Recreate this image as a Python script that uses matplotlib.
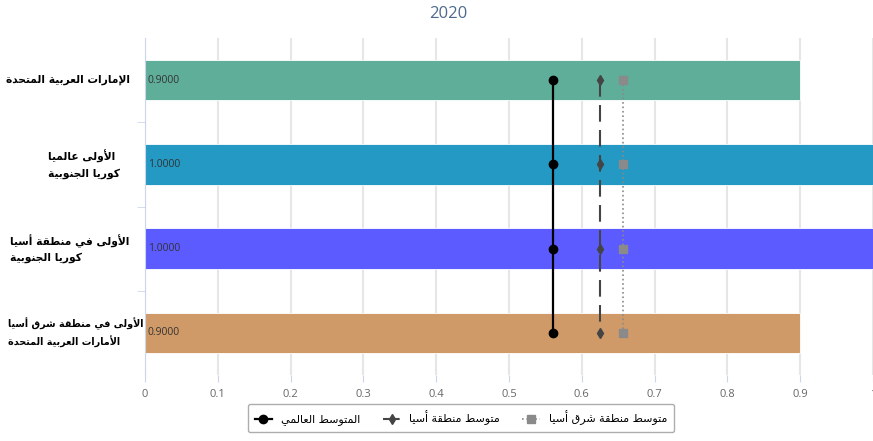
# -*- coding: utf-8 -*-
import matplotlib
matplotlib.use("Agg")
import matplotlib.pyplot as plt

# matplotlib has no Arabic shaping: map letters to presentation forms
# (isolated, final, initial, medial) and reverse for display
FORMS = {
    'ا': ('\uFE8D', '\uFE8E', None, None),
    'أ': ('\uFE83', '\uFE84', None, None),
    'إ': ('\uFE87', '\uFE88', None, None),
    'ب': ('\uFE8F', '\uFE90', '\uFE91', '\uFE92'),
    'ة': ('\uFE93', '\uFE94', None, None),
    'ت': ('\uFE95', '\uFE96', '\uFE97', '\uFE98'),
    'ج': ('\uFE9D', '\uFE9E', '\uFE9F', '\uFEA0'),
    'ح': ('\uFEA1', '\uFEA2', '\uFEA3', '\uFEA4'),
    'د': ('\uFEA9', '\uFEAA', None, None),
    'ر': ('\uFEAD', '\uFEAE', None, None),
    'س': ('\uFEB1', '\uFEB2', '\uFEB3', '\uFEB4'),
    'ش': ('\uFEB5', '\uFEB6', '\uFEB7', '\uFEB8'),
    'ط': ('\uFEC1', '\uFEC2', '\uFEC3', '\uFEC4'),
    'ع': ('\uFEC9', '\uFECA', '\uFECB', '\uFECC'),
    'ف': ('\uFED1', '\uFED2', '\uFED3', '\uFED4'),
    'ق': ('\uFED5', '\uFED6', '\uFED7', '\uFED8'),
    'ك': ('\uFED9', '\uFEDA', '\uFEDB', '\uFEDC'),
    'ل': ('\uFEDD', '\uFEDE', '\uFEDF', '\uFEE0'),
    'م': ('\uFEE1', '\uFEE2', '\uFEE3', '\uFEE4'),
    'ن': ('\uFEE5', '\uFEE6', '\uFEE7', '\uFEE8'),
    'و': ('\uFEED', '\uFEEE', None, None),
    'ى': ('\uFEEF', '\uFEF0', None, None),
    'ي': ('\uFEF1', '\uFEF2', '\uFEF3', '\uFEF4'),
}
LIG = {'ا': ('\uFEFB', '\uFEFC'), 'أ': ('\uFEF7', '\uFEF8'), 'إ': ('\uFEF9', '\uFEFA')}


def shape_line(line):
    toks = []
    i = 0
    while i < len(line):
        c = line[i]
        if c == 'ل' and i + 1 < len(line) and line[i + 1] in LIG:
            toks.append(('lig', line[i + 1]))
            i += 2
        else:
            toks.append(('ch', c))
            i += 1
    out = []
    for k, (kind, c) in enumerate(toks):
        prev = toks[k - 1] if k > 0 else None
        nxt = toks[k + 1] if k + 1 < len(toks) else None
        jp = (prev is not None and prev[0] == 'ch' and prev[1] in FORMS
              and FORMS[prev[1]][2] is not None)
        if kind == 'lig':
            out.append(LIG[c][1 if jp else 0])
            continue
        if c not in FORMS:
            out.append(c)
            continue
        f = FORMS[c]
        jn = (nxt is not None and f[2] is not None
              and (nxt[0] == 'lig' or nxt[1] in FORMS))
        if jp and jn:
            out.append(f[3])
        elif jp:
            out.append(f[1])
        elif jn:
            out.append(f[2])
        else:
            out.append(f[0])
    return ''.join(reversed(out))


def ar(text):
    return '\n'.join(shape_line(l) for l in text.split('\n'))


# data
title = "2020"
categories = [
    "الإمارات العربية المتحدة",
    "الأولى عالميا\nكوريا الجنوبية",
    "الأولى في منطقة أسيا\nكوريا الجنوبية",
    "الأولى في منطقة شرق أسيا\nالأمارات العربية المتحدة",
]
values = [0.9, 1.0, 1.0, 0.9]
bar_colors = ["#5fae9a", "#2399c4", "#5b5bff", "#d09a68"]
world_avg = [0.561, 0.561, 0.561, 0.561]
asia_avg = [0.625, 0.625, 0.625, 0.625]
east_asia_avg = [0.657, 0.657, 0.657, 0.657]
series_names = ["المتوسط العالمي", "متوسط منطقة أسيا", "متوسط منطقة شرق أسيا"]

# label right-edge gap from the axis (points) and font size per label
label_gaps = [11, 18, 11, 1]
label_sizes = [7.7, 7.7, 7.7, 6.9]

plt.rcParams['font.family'] = ['DejaVu Sans']

fig = plt.figure(figsize=(8.73, 4.41), dpi=100)
ax = fig.add_axes([145 / 873, 66 / 441, 728 / 873, 337 / 441])

ypos = list(range(len(categories)))
ax.barh(ypos, values, height=0.48, color=bar_colors, edgecolor="white",
        linewidth=0.6, zorder=2)
for y, v in zip(ypos, values):
    ax.text(0.004, y, "%.4f" % v, va="center", ha="left", fontsize=7.5,
            color="#333333", family="Open Sans", zorder=5)

ax.plot(world_avg, ypos, color="black", lw=1.6, marker="o", ms=6,
        label=ar(series_names[0]), zorder=4)
ax.plot(asia_avg, ypos, color="#444444", lw=1.5, ls=(0, (8, 4)), marker="d",
        ms=5, label=ar(series_names[1]), zorder=4)
ax.plot(east_asia_avg, ypos, color="#8a8a8a", lw=1.2, ls=":", marker="s",
        ms=6, label=ar(series_names[2]), zorder=4)

ax.set_xlim(0, 1)
ax.set_ylim(3.5, -0.5)
ax.set_xticks([i / 10 for i in range(11)])
ax.set_xticklabels(["0", "0.1", "0.2", "0.3", "0.4", "0.5", "0.6", "0.7",
                    "0.8", "0.9", "1"], family="Open Sans", fontsize=8,
                   color="#666666")
ax.grid(axis="x", color="#e6e6e6", lw=1.5, zorder=0)
ax.tick_params(axis="x", length=5, color="#ccd6eb", pad=5)

# category labels
ax.set_yticks(ypos)
ax.set_yticklabels([])
ax.tick_params(axis="y", which="major", length=0)
for y, c, g, fs in zip(ypos, categories, label_gaps, label_sizes):
    ax.annotate(ar(c), xy=(0, y), xycoords=ax.get_yaxis_transform(),
                xytext=(-g, 0), textcoords="offset points", ha="right",
                va="center", fontsize=fs, fontweight="bold",
                multialignment="left", linespacing=1.6, annotation_clip=False)
ax.set_yticks([0.5, 1.5, 2.5], minor=True)
ax.tick_params(axis="y", which="minor", length=6, color="#ccd6eb")

for s in ["top", "right", "bottom"]:
    ax.spines[s].set_visible(False)
ax.spines["left"].set_color("#ccd6eb")

fig.text(0.5 * (145 + 873) / 873 - 0.07, 1 - 14 / 441, title, ha="center",
         va="center", fontsize=12, color="#4d6a8c", family="Open Sans")

leg = fig.legend(loc="center", bbox_to_anchor=(461 / 873, 1 - 418 / 441),
                 ncol=3, fontsize=8, frameon=True, fancybox=True,
                 edgecolor="#999999", handlelength=1.6, columnspacing=2.0,
                 borderpad=0.6)
leg.get_frame().set_linewidth(1)

fig.savefig("out.png", dpi=100)
